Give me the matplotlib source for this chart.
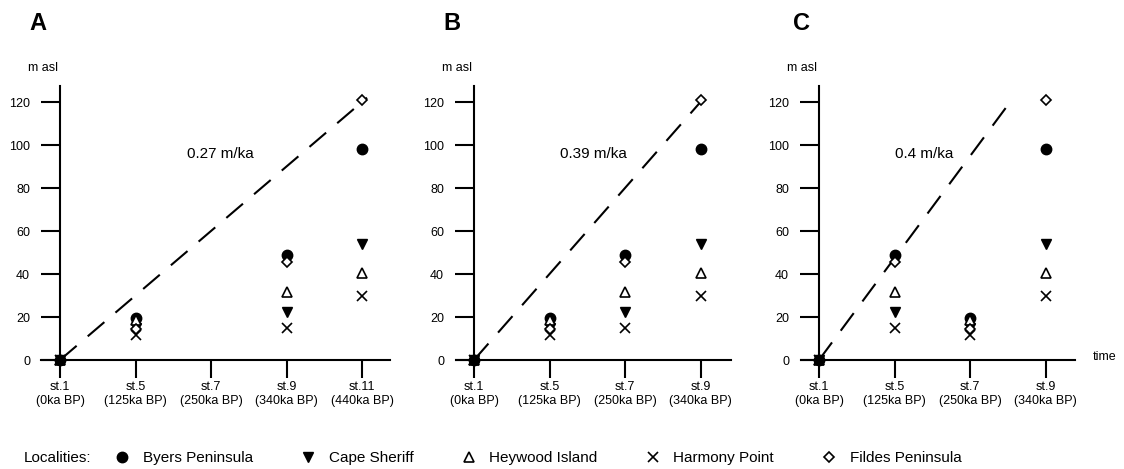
import matplotlib
matplotlib.use("Agg")
import matplotlib.pyplot as plt
from matplotlib.lines import Line2D

plt.rcParams['font.family'] = ['Liberation Sans', 'DejaVu Sans']

# terrace heights (m asl) per locality, one value per terrace level
byers = [0, 19.5, 49, 98]
cape_sheriff = [0, 15, 22.5, 54]
heywood = [0, 18.5, 31.5, 40.5]
harmony = [0, 11.5, 15, 30]
fildes = [0, 14.5, 45.5, 121]

localities = ['Byers Peninsula', 'Cape Sheriff', 'Heywood Island', 'Harmony Point', 'Fildes Peninsula']
heights = [byers, cape_sheriff, heywood, harmony, fildes]

# stages shown on each panel, and which stage each terrace level is assigned to
stages_a = ['st.1\n(0ka BP)', 'st.5\n(125ka BP)', 'st.7\n(250ka BP)', 'st.9\n(340ka BP)', 'st.11\n(440ka BP)']
stages_bc = ['st.1\n(0ka BP)', 'st.5\n(125ka BP)', 'st.7\n(250ka BP)', 'st.9\n(340ka BP)']
level_pos_a = [0, 1, 3, 4]
level_pos_b = [0, 1, 2, 3]
level_pos_c = [0, 2, 1, 3]

rates = ['0.27 m/ka', '0.39 m/ka', '0.4 m/ka']
slopes = [30, 40, 47.4]   # m per stage step on the plot
line_top = 122

styles = [
    dict(marker='o', ms=7.5, mfc='black', mec='black'),
    dict(marker='v', ms=7, mfc='black', mec='black'),
    dict(marker='^', ms=6.5, mfc='white', mec='black', mew=1.2),
    dict(marker='x', ms=7, mec='black', mew=1.2),
    dict(marker='D', ms=5.5, mfc='white', mec='black', mew=1.2),
]

W, H = 1124, 469
fig = plt.figure(figsize=(W / 100, H / 100), dpi=100)

panels = [
    ('A', 60, 41, 390, stages_a, level_pos_a, (2.12, 96)),
    ('B', 474, 456, 731, stages_bc, level_pos_b, (1.58, 96)),
    ('C', 819, 801, 1075, stages_bc, level_pos_c, (1.39, 96)),
]
step = 75.5
top, bottom = 86, 360
ymax = (bottom - top) / 2.15

for i, (letter, yaxis_x, left, right, stages, pos, txt) in enumerate(panels):
    ax = fig.add_axes([left / W, (H - bottom) / H, (right - left) / W, (bottom - top) / H])
    ax.set_xlim((left - yaxis_x) / step, (right - yaxis_x) / step)
    ax.set_ylim(0, ymax)
    ax.patch.set_alpha(0)
    for s in ['top', 'right']:
        ax.spines[s].set_visible(False)
    ax.spines['left'].set_position(('data', 0))
    ax.spines['left'].set_linewidth(1.5)
    ax.spines['bottom'].set_linewidth(1.5)
    ax.set_yticks(range(0, 121, 20))
    ax.set_xticks(range(len(stages)))
    ax.set_xticklabels(stages)
    ax.tick_params(axis='y', length=13.5, width=1.5, pad=8, labelsize=9)
    ax.tick_params(axis='x', length=13, width=1.5, pad=2, labelsize=9)

    x_end = line_top / slopes[i]
    ax.plot([0, x_end], [0, slopes[i] * x_end], color='black', lw=1.5,
            dashes=(10.5, 7), clip_on=False, zorder=2)
    ax.text(txt[0], txt[1], rates[i], ha='center', va='center', fontsize=11)

    for k, (h, st) in enumerate(zip(heights, styles)):
        # origin point: Byers circle sits on top of the others
        ax.plot(pos[:1], h[:1], ls='none', clip_on=False, zorder=5 if k == 0 else 3, **st)
        ax.plot(pos[1:], h[1:], ls='none', clip_on=False, zorder=3, **st)

    ax.text(-0.03, 136, 'm asl', ha='right', va='center', fontsize=9, clip_on=False)

fig.text(38 / W, 1 - 23 / H, 'A', fontsize=17, fontweight='bold', ha='center', va='center')
fig.text(452 / W, 1 - 23 / H, 'B', fontsize=17, fontweight='bold', ha='center', va='center')
fig.text(801 / W, 1 - 23 / H, 'C', fontsize=17, fontweight='bold', ha='center', va='center')
fig.text(1105 / W, 1 - 357 / H, 'time', fontsize=9, ha='center', va='center')

# legend row
fig.text(24 / W, 1 - 458 / H, 'Localities:', fontsize=11, ha='left', va='center')
handles = [Line2D([], [], ls='none', **st) for st in styles]
fig.legend(handles, localities, loc='center left', bbox_to_anchor=(114.5 / W, 1 - 458 / H),
           ncol=5, frameon=False, fontsize=11, handlelength=1, handletextpad=0.86,
           columnspacing=3.1, borderpad=0, borderaxespad=0)

fig.savefig('out.png', dpi=100)
